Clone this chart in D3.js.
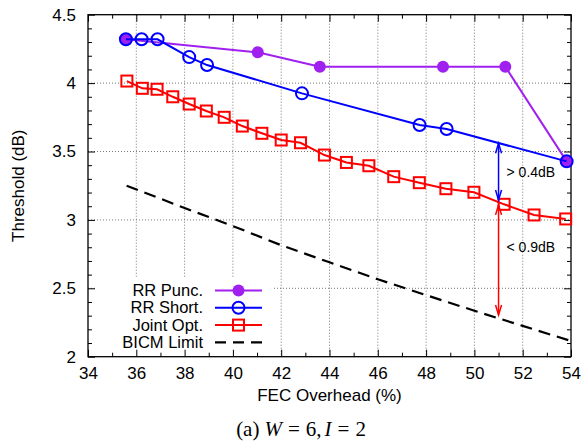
<!DOCTYPE html>
<html>
<head>
<meta charset="utf-8">
<script src="https://cdn.jsdelivr.net/npm/d3@7"></script>
<style>
  html, body { margin: 0; padding: 0; background: #fff; }
  svg { display: block; }
  text { font-family: "Liberation Sans", Arial, Helvetica, sans-serif; fill: #000; }
</style>
</head>
<body>
<script>
// FEC overhead (%) vs. decoding threshold (dB)
const rrPuncX = [35.57, 41.03, 43.6, 48.7, 51.28, 53.82];
const rrPuncY = [4.32, 4.225, 4.12, 4.12, 4.12, 3.428];

const rrShortX = [35.57, 36.22, 36.88, 38.19, 38.93, 42.86, 47.73, 48.85, 53.82];
const rrShortY = [4.32, 4.32, 4.32, 4.19, 4.132, 3.925, 3.694, 3.664, 3.428];

const jointX = [35.61, 36.25, 36.86, 37.51, 38.19, 38.9, 39.64, 40.39, 41.2, 42.0, 42.8,
                43.79, 44.7, 45.63, 46.66, 47.72, 48.82, 49.98, 51.23, 52.47, 53.78];
const jointY = [4.015, 3.962, 3.955, 3.90, 3.847, 3.796, 3.75, 3.686, 3.633, 3.584, 3.564,
                3.474, 3.42, 3.396, 3.316, 3.272, 3.228, 3.202, 3.114, 3.036, 3.007];

const bicmX = [35.6, 38, 40, 42, 44, 46, 48, 50, 52, 54];
const bicmY = [3.25, 3.087, 2.955, 2.815, 2.69, 2.566, 2.45, 2.336, 2.225, 2.115];

const xTicks = [34, 36, 38, 40, 42, 44, 46, 48, 50, 52, 54];
const yTicks = [2, 2.5, 3, 3.5, 4, 4.5];
const yTickLabels = ["2", "2.5", "3", "3.5", "4", "4.5"];

const seriesNames = ["RR Punc.", "RR Short.", "Joint Opt.", "BICM Limit"];

// Gap annotations: arrow x, arrow ends, label and label baseline (in data units)
const gapX = [51.0, 51.0];
const gapTop = [3.56, 3.11];
const gapBottom = [3.145, 2.305];
const gapLabels = ["> 0.4dB", "< 0.9dB"];
const gapLabelY = [3.316, 2.768];

const W = 581, H = 448;
const m = { left: 88, right: 571, top: 14.7, bottom: 356.7 };

const svg = d3.select("body").append("svg").attr("width", W).attr("height", H);

const x = d3.scaleLinear().domain([34, 54]).range([m.left, m.right]);
const y = d3.scaleLinear().domain([2, 4.5]).range([m.bottom, m.top]);

const purple = "#a020f0", blue = "#0000ff", red = "#ff0000";

// Grid
const grid = svg.append("g").attr("stroke", "#555").attr("stroke-width", 0.8)
  .attr("stroke-dasharray", "1,2").attr("fill", "none");
xTicks.slice(1, -1).forEach(t => grid.append("line")
  .attr("x1", x(t)).attr("x2", x(t)).attr("y1", m.top).attr("y2", m.bottom));
yTicks.slice(1, -1).forEach(t => grid.append("line")
  .attr("x1", m.left).attr("x2", m.right).attr("y1", y(t)).attr("y2", y(t)));

// Legend backdrop hides grid behind the key
svg.append("rect").attr("x", 96).attr("y", 277).attr("width", 177).attr("height", 78)
  .attr("fill", "#fff");

// Axes with inward ticks on all sides
const minorX = d3.range(35, 54, 2);
const minorY = d3.range(2.1, 4.45, 0.1).filter(v => Math.abs(v * 2 - Math.round(v * 2)) > 1e-6);

function tickStyle(g) {
  g.select(".domain").remove();
  g.selectAll("line").attr("stroke", "#000").attr("stroke-width", 1);
}

svg.append("g").attr("transform", `translate(0,${m.bottom})`)
  .call(d3.axisBottom(x).tickValues(xTicks).tickSizeInner(-7).tickSizeOuter(0).tickPadding(10).tickFormat(d3.format("d")))
  .call(tickStyle)
  .call(g => g.selectAll("text").attr("font-size", 17).attr("fill", "#000")
    .attr("font-family", "Liberation Sans, Arial, sans-serif"));
svg.append("g").attr("transform", `translate(0,${m.bottom})`)
  .call(d3.axisBottom(x).tickValues(minorX).tickSizeInner(-4).tickSizeOuter(0).tickFormat(""))
  .call(tickStyle);
svg.append("g").attr("transform", `translate(0,${m.top})`)
  .call(d3.axisTop(x).tickValues(xTicks).tickSizeInner(-7).tickSizeOuter(0).tickFormat(""))
  .call(tickStyle);
svg.append("g").attr("transform", `translate(0,${m.top})`)
  .call(d3.axisTop(x).tickValues(minorX).tickSizeInner(-4).tickSizeOuter(0).tickFormat(""))
  .call(tickStyle);

svg.append("g").attr("transform", `translate(${m.left},0)`)
  .call(d3.axisLeft(y).tickValues(yTicks).tickSizeInner(-7).tickSizeOuter(0).tickPadding(12)
    .tickFormat((d, i) => yTickLabels[i]))
  .call(tickStyle)
  .call(g => g.selectAll("text").attr("font-size", 17).attr("fill", "#000")
    .attr("font-family", "Liberation Sans, Arial, sans-serif"));
svg.append("g").attr("transform", `translate(${m.left},0)`)
  .call(d3.axisLeft(y).tickValues(minorY).tickSizeInner(-4).tickSizeOuter(0).tickFormat(""))
  .call(tickStyle);
svg.append("g").attr("transform", `translate(${m.right},0)`)
  .call(d3.axisRight(y).tickValues(yTicks).tickSizeInner(-7).tickSizeOuter(0).tickFormat(""))
  .call(tickStyle);
svg.append("g").attr("transform", `translate(${m.right},0)`)
  .call(d3.axisRight(y).tickValues(minorY).tickSizeInner(-4).tickSizeOuter(0).tickFormat(""))
  .call(tickStyle);

// Frame
svg.append("rect").attr("x", m.left).attr("y", m.top)
  .attr("width", m.right - m.left).attr("height", m.bottom - m.top)
  .attr("fill", "none").attr("stroke", "#000").attr("stroke-width", 1.3);

// Series
const line = d3.line().x(d => x(d[0])).y(d => y(d[1]));
const zip = (a, b) => a.map((v, i) => [v, b[i]]);

const punc = zip(rrPuncX, rrPuncY);
const short = zip(rrShortX, rrShortY);
const joint = zip(jointX, jointY);
const bicm = zip(bicmX, bicmY);

svg.append("path").datum(punc).attr("d", line).attr("fill", "none")
  .attr("stroke", purple).attr("stroke-width", 2);
svg.selectAll(".punc").data(punc).join("circle")
  .attr("cx", d => x(d[0])).attr("cy", d => y(d[1])).attr("r", 6).attr("fill", purple);

svg.append("path").datum(short).attr("d", line).attr("fill", "none")
  .attr("stroke", blue).attr("stroke-width", 2);
svg.selectAll(".short").data(short).join("circle")
  .attr("cx", d => x(d[0])).attr("cy", d => y(d[1])).attr("r", 6)
  .attr("fill", "none").attr("stroke", blue).attr("stroke-width", 2);

svg.append("path").datum(joint).attr("d", line).attr("fill", "none")
  .attr("stroke", red).attr("stroke-width", 2);
svg.selectAll(".joint").data(joint).join("rect")
  .attr("x", d => x(d[0]) - 5.5).attr("y", d => y(d[1]) - 5.5).attr("width", 11).attr("height", 11)
  .attr("fill", "none").attr("stroke", red).attr("stroke-width", 2);

svg.append("path").datum(bicm).attr("d", line).attr("fill", "none")
  .attr("stroke", "#000").attr("stroke-width", 2.2).attr("stroke-dasharray", "12,7");

// Gap arrows
const arrowColors = [blue, red];
gapX.forEach((gx, i) => {
  const g = svg.append("g").attr("stroke", arrowColors[i]).attr("stroke-width", 1.5).attr("fill", "none");
  const px = x(gx), y1 = y(gapTop[i]), y2 = y(gapBottom[i]);
  g.append("line").attr("x1", px).attr("x2", px).attr("y1", y1).attr("y2", y2);
  g.append("path").attr("d", `M${px - 3},${y1 + 10} L${px},${y1} L${px + 3},${y1 + 10}`);
  g.append("path").attr("d", `M${px - 3},${y2 - 10} L${px},${y2} L${px + 3},${y2 - 10}`);
  svg.append("text").attr("x", px + 8).attr("y", y(gapLabelY[i]))
    .attr("font-size", 14).text(gapLabels[i]);
});

// Legend
const legY = [290.5, 307.8, 325.1, 342.4];
const legText = 203, legL = 215, legR = 262, legM = 238.5;
seriesNames.forEach((name, i) => {
  svg.append("text").attr("x", legText).attr("y", legY[i] + 5.5).attr("text-anchor", "end")
    .attr("font-size", 16.5).text(name);
});
svg.append("line").attr("x1", legL).attr("x2", legR).attr("y1", legY[0]).attr("y2", legY[0])
  .attr("stroke", purple).attr("stroke-width", 2);
svg.append("circle").attr("cx", legM).attr("cy", legY[0]).attr("r", 6).attr("fill", purple);
svg.append("line").attr("x1", legL).attr("x2", legR).attr("y1", legY[1]).attr("y2", legY[1])
  .attr("stroke", blue).attr("stroke-width", 2);
svg.append("circle").attr("cx", legM).attr("cy", legY[1]).attr("r", 6)
  .attr("fill", "none").attr("stroke", blue).attr("stroke-width", 2);
svg.append("line").attr("x1", legL).attr("x2", legR).attr("y1", legY[2]).attr("y2", legY[2])
  .attr("stroke", red).attr("stroke-width", 2);
svg.append("rect").attr("x", legM - 5.5).attr("y", legY[2] - 5.5).attr("width", 11).attr("height", 11)
  .attr("fill", "none").attr("stroke", red).attr("stroke-width", 2);
svg.append("line").attr("x1", legL).attr("x2", legR).attr("y1", legY[3]).attr("y2", legY[3])
  .attr("stroke", "#000").attr("stroke-width", 2.2).attr("stroke-dasharray", "11,7");

// Axis titles
svg.append("text").attr("x", (m.left + m.right) / 2).attr("y", 401).attr("text-anchor", "middle")
  .attr("font-size", 17).text("FEC Overhead (%)");
svg.append("text").attr("transform", `translate(24,${(m.top + m.bottom) / 2}) rotate(-90)`)
  .attr("text-anchor", "middle").attr("font-size", 17).text("Threshold (dB)");

// Caption with math-style spacing
const cap = svg.append("text").attr("x", 301).attr("y", 436).attr("text-anchor", "middle")
  .attr("font-size", 21).style("font-family", "'Liberation Serif', 'Times New Roman', serif");
cap.append("tspan").text("(a)");
cap.append("tspan").attr("dx", 5).attr("font-style", "italic").text("W");
cap.append("tspan").attr("dx", 6).text("=");
cap.append("tspan").attr("dx", 6).text("6,");
cap.append("tspan").attr("dx", 3).attr("font-style", "italic").text("I");
cap.append("tspan").attr("dx", 6).text("=");
cap.append("tspan").attr("dx", 6).text("2");
</script>
</body>
</html>
